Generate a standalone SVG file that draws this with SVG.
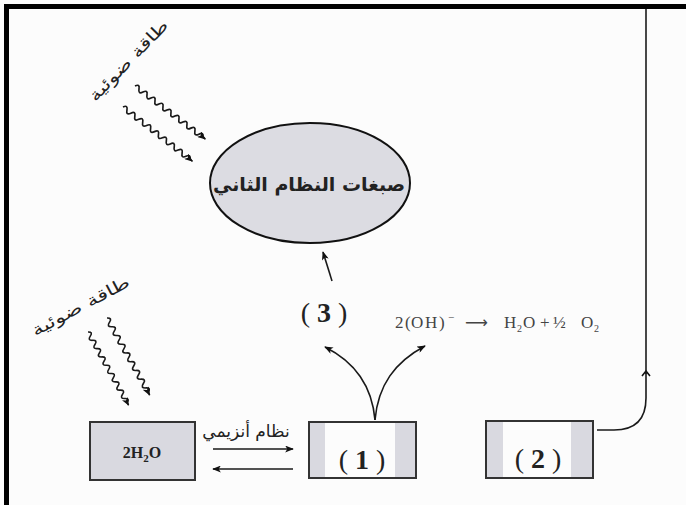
<svg xmlns="http://www.w3.org/2000/svg" width="686" height="505" viewBox="0 0 686 505">
<style>
.ar{font-family:"DejaVu Sans",sans-serif;fill:#222}
.sr{font-family:"Liberation Serif",serif;fill:#222}
.eq{font-family:"Liberation Serif",serif;fill:#444;font-size:17px}
.ln{fill:none;stroke:#1a1a1a;stroke-width:1.6}
.bx{fill:#d9d9e0;stroke:#333;stroke-width:2}
.wv{fill:none;stroke:#1a1a1a;stroke-width:1.7;marker-end:url(#ah)}
</style>
<defs>
<marker id="ah" viewBox="0 0 10 8" refX="9" refY="4" markerWidth="9" markerHeight="7" markerUnits="userSpaceOnUse" orient="auto">
<path d="M0,0 L10,4 L0,8 L2.5,4 z" fill="#111"/>
</marker>
<marker id="chev" viewBox="0 0 10 10" refX="5" refY="5" markerWidth="10" markerHeight="10" markerUnits="userSpaceOnUse" orient="auto">
<path d="M1,1 L6,5 L1,9" fill="none" stroke="#111" stroke-width="1.6"/>
</marker>
<path id="wave" d="M0,0 q2.5,-5 5,0 t5,0 t5,0 t5,0 t5,0 t5,0 t5,0 t5,0 t5,0 t5,0 t5,0 t5,0 t5,0 t5,0 t5,0 t5,0 t5,0 l3,0" class="wv"/>
</defs>
<rect x="0" y="0" width="686" height="505" fill="#fcfcfc"/>
<rect x="4" y="4" width="682" height="5" fill="#000"/>
<rect x="4" y="4" width="5" height="501" fill="#000"/>

<g id="light-top">
<text class="ar" font-size="16" transform="translate(129,61) rotate(-46) scale(1.35,1)" text-anchor="middle" dominant-baseline="middle">طاقة ضوئية</text>
<use href="#wave" transform="translate(135,86) rotate(37)"/>
<use href="#wave" transform="translate(123,107) rotate(38)"/>
</g>
<g id="light-bottom">
<text class="ar" font-size="16" transform="translate(81,307) rotate(-28) scale(1.38,1)" text-anchor="middle" dominant-baseline="middle">طاقة ضوئية</text>
<use href="#wave" transform="translate(88,332) rotate(61) scale(0.95)"/>
<use href="#wave" transform="translate(107,318) rotate(61)"/>
</g>

<g id="node-ps2">
<ellipse cx="310" cy="183" rx="100" ry="60" fill="#dcdce2" stroke="#111" stroke-width="2"/>
<text class="ar" x="309" y="191" font-size="19" font-weight="bold" text-anchor="middle">صبغات النظام الثاني</text>
</g>

<g id="node-water">
<rect class="bx" x="90" y="422" width="105" height="58"/>
<text class="sr" x="142" y="458" font-size="16" font-weight="bold" text-anchor="middle">2H<tspan font-size="11" dy="4">2</tspan><tspan dy="-4">O</tspan></text>
</g>

<g id="node-1">
<rect class="bx" x="309" y="422" width="107" height="56"/>
<rect x="325" y="423" width="70" height="54" fill="#fcfcfc"/>
<text class="sr" x="362" y="469" font-size="28" text-anchor="middle"><tspan>(</tspan><tspan font-weight="bold"> 1 </tspan><tspan>)</tspan></text>
</g>

<g id="node-2">
<rect class="bx" x="486" y="421" width="107" height="57"/>
<rect x="503" y="422" width="68" height="55" fill="#fcfcfc"/>
<text class="sr" x="538" y="468" font-size="28" text-anchor="middle"><tspan>(</tspan><tspan font-weight="bold"> 2 </tspan><tspan>)</tspan></text>
</g>

<g id="label-3">
<text class="sr" x="324" y="322" font-size="28" text-anchor="middle"><tspan>(</tspan><tspan font-weight="bold"> 3 </tspan><tspan>)</tspan></text>
</g>

<g id="label-eq">
<text class="eq" y="328"><tspan x="395 405 411 425 439">2(OH)</tspan><tspan x="448" y="321" font-size="11">−</tspan><tspan x="465" y="328" font-family="DejaVu Sans,sans-serif" font-size="16">⟶</tspan><tspan x="504" y="328">H</tspan><tspan x="517" y="332" font-size="10">2</tspan><tspan x="523" y="328">O</tspan><tspan x="540" y="328">+</tspan><tspan x="553" y="328">½</tspan><tspan x="581" y="328">O</tspan><tspan x="594" y="332" font-size="10">2</tspan></text>
</g>

<g id="connectors">
<text class="ar" x="246" y="437" font-size="17" text-anchor="middle">نظام أنزيمي</text>
<line class="ln" x1="213" y1="449" x2="293" y2="449" marker-end="url(#ah)"/>
<line class="ln" x1="293" y1="469" x2="213" y2="469" marker-end="url(#ah)"/>
<path class="ln" d="M375,420 C372,385 355,362 325,347" marker-end="url(#ah)"/>
<path class="ln" d="M375,420 C378,385 395,362 425,346" marker-end="url(#ah)"/>
<line class="ln" x1="332" y1="281" x2="323" y2="252" marker-end="url(#ah)"/>
<path class="ln" d="M597,430 L614,430 Q646,430 646,398 L646,372" marker-end="url(#chev)"/>
<line class="ln" x1="646" y1="374" x2="646" y2="9"/>
</g>
</svg>
